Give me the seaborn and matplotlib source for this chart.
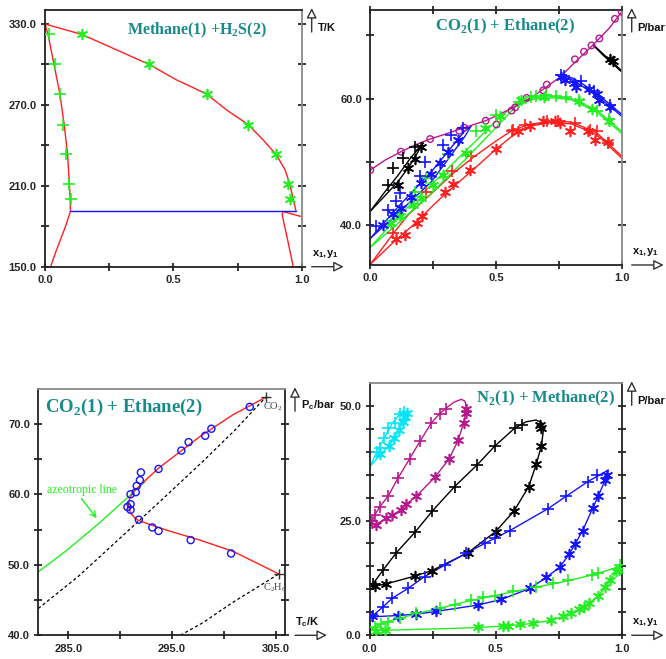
import matplotlib
matplotlib.use('Agg')
import matplotlib.pyplot as plt
import seaborn as sns
from matplotlib.transforms import offset_copy

# ---------------- panel 1 : Methane(1) + H2S(2), T-x-y ----------------
p1_liq_x = [0.0, 0.012, 0.035, 0.058, 0.075, 0.088, 0.095, 0.098, 0.099]
p1_liq_T = [330, 322, 300, 278, 255, 233, 211, 200, 191]
p1_vap_x = [0.0, 0.143, 0.27, 0.406, 0.513, 0.575, 0.63, 0.708, 0.792, 0.85, 0.9, 0.935, 0.954, 0.967, 0.978]
p1_vap_T = [330, 322.3, 311.6, 300, 288.5, 283.0, 277.9, 266.2, 255.3, 244, 233.3, 222, 211.1, 200, 191]
p1_three_x = [0.099, 0.978]
p1_three_T = [191, 191]
p1_sl_left_x = [0.099, 0.08, 0.06, 0.04, 0.022]
p1_sl_left_T = [191, 180, 170, 160, 150]
p1_sl_right_x = [0.926, 0.924, 0.945, 0.967]
p1_sl_right_T = [191, 188.3, 170, 150]
p1_sv_x = [0.926, 1.0]
p1_sv_T = [191, 187.1]
p1_exp_liq_x = [0.016, 0.039, 0.058, 0.071, 0.083, 0.093, 0.101]
p1_exp_liq_T = [322.6, 300, 277.9, 255.3, 233.3, 211.1, 200]
p1_exp_vap_x = [0.143, 0.406, 0.63, 0.792, 0.9, 0.945, 0.956]
p1_exp_vap_T = [322.6, 300, 277.9, 255.3, 233.3, 211.1, 200]

# ---------------- panel 2 : CO2(1) + Ethane(2), P-x-y ----------------
p2_red_bub_x = [0, 0.092, 0.15, 0.244, 0.33, 0.416, 0.5, 0.562, 0.63, 0.715, 0.8, 0.9, 1.0]
p2_red_bub_P = [33.8, 38.7, 41.6, 45.0, 48.2, 50.9, 53.3, 54.9, 55.9, 56.4, 56.3, 54.6, 50.9]
p2_red_dew_x = [0, 0.1, 0.185, 0.244, 0.3, 0.416, 0.5, 0.562, 0.63, 0.715, 0.8, 0.9, 1.0]
p2_red_dew_P = [33.8, 37.6, 40.5, 42.9, 45.0, 49.0, 52.0, 54.0, 55.6, 56.2, 56.0, 54.3, 50.6]
p2_grn_x = [0, 0.111, 0.244, 0.376, 0.509, 0.582, 0.65, 0.728, 0.8, 0.9, 1.0]
p2_grn_bub_P = [36.5, 41.4, 46.4, 51.6, 56.8, 59.3, 60.1, 60.3, 60.0, 58.2, 54.8]
p2_grn_dew_P = [36.5, 40.3, 45.1, 50.3, 55.8, 58.9, 59.9, 60.1, 59.8, 57.9, 54.5]
p2_blu_x = [0, 0.111, 0.244, 0.376, 0.4]
p2_blu_bub_P = [37.9, 42.9, 48.5, 54.9, 55.6]
p2_blu_dew_P = [37.9, 41.9, 46.9, 54.0, 55.6]
p2_blu_r_x = [0.755, 0.8, 0.834, 0.9, 0.95, 1.0]
p2_blu_r_bub_P = [63.6, 63.3, 62.6, 60.8, 59.2, 57.5]
p2_blu_r_dew_P = [63.4, 63.0, 62.2, 60.4, 58.9, 57.2]
p2_blk_x = [0, 0.055, 0.111, 0.16, 0.211]
p2_blk_bub_P = [42.2, 45.1, 47.9, 50.6, 53.0]
p2_blk_dew_P = [42.2, 44.5, 46.9, 49.6, 53.0]
p2_blk_r_x = [0.887, 0.93, 0.97, 1.0]
p2_blk_r_bub_P = [68.5, 66.9, 65.5, 64.4]
p2_blk_r_dew_P = [68.4, 66.7, 65.3, 64.2]
p2_mag_x = [0, 0.06, 0.122, 0.18, 0.238, 0.3, 0.373, 0.459, 0.503, 0.569, 0.65, 0.755, 0.821, 0.887, 0.95, 1.0]
p2_mag_P = [48.7, 50.3, 51.6, 52.7, 53.6, 54.4, 55.4, 56.5, 57.3, 58.6, 60.4, 63.4, 66.0, 68.5, 71.1, 73.7]
p2_mag_exp_x = [0, 0.122, 0.238, 0.354, 0.373, 0.459, 0.502, 0.562, 0.576, 0.622, 0.688, 0.702, 0.814, 0.85, 0.88, 0.911, 0.973, 1.0]
p2_mag_exp_P = [48.7, 51.6, 53.6, 54.9, 55.4, 56.5, 55.9, 58.1, 58.6, 60.1, 61.3, 62.2, 66.2, 67.4, 68.4, 69.5, 72.6, 73.7]
p2_red_plus_x = [0.092, 0.222, 0.324, 0.4, 0.562, 0.569, 0.615, 0.702, 0.748, 0.814, 0.874, 0.9, 0.947]
p2_red_plus_P = [38.8, 45.3, 48.5, 50.9, 54.8, 55.1, 55.8, 56.4, 56.4, 56.2, 55.0, 54.8, 53.0]
p2_red_star_x = [0.101, 0.138, 0.185, 0.207, 0.297, 0.33, 0.397, 0.499, 0.589, 0.635, 0.688, 0.735, 0.755, 0.794, 0.867, 0.894, 0.947]
p2_red_star_P = [37.8, 38.5, 40.4, 41.5, 45.3, 46.5, 48.7, 52.0, 54.8, 55.7, 56.4, 56.4, 56.2, 54.8, 54.8, 53.5, 53.2]
p2_grn_plus_x = [0.11, 0.176, 0.223, 0.309, 0.42, 0.5, 0.59, 0.64, 0.66, 0.7, 0.74, 0.78, 0.83, 0.9, 0.95]
p2_grn_plus_P = [41.8, 45.2, 47.5, 51.2, 54.8, 57.4, 59.5, 60.2, 60.4, 60.5, 60.4, 60.3, 59.8, 58.0, 56.8]
p2_grn_star_x = [0.084, 0.117, 0.17, 0.203, 0.25, 0.289, 0.382, 0.455, 0.515, 0.6, 0.69, 0.83, 0.88, 0.95]
p2_grn_star_P = [40.3, 41.5, 43.2, 44.3, 46.3, 47.9, 51.4, 55.4, 57.2, 59.7, 60.3, 59.6, 58.3, 56.5]
p2_blu_plus_x = [0.024, 0.07, 0.103, 0.117, 0.196, 0.216, 0.289, 0.322, 0.369, 0.757, 0.77, 0.84, 0.89, 0.952]
p2_blu_plus_P = [39.9, 42.4, 43.8, 45.0, 47.8, 49.9, 52.6, 54.2, 55.3, 63.8, 63.5, 62.8, 61.2, 59.0]
p2_blu_star_x = [0.05, 0.09, 0.123, 0.163, 0.203, 0.243, 0.276, 0.309, 0.349, 0.76, 0.775, 0.81, 0.82, 0.87, 0.9, 0.91, 0.955]
p2_blu_star_P = [40.0, 41.8, 42.7, 44.5, 46.6, 48.0, 49.8, 51.6, 53.5, 63.4, 63.0, 62.4, 61.8, 61.5, 60.7, 59.8, 58.7]
p2_blk_plus_x = [0.07, 0.09, 0.13, 0.176]
p2_blk_plus_P = [46.4, 49.0, 50.6, 52.3]
p2_blk_star_x = [0.11, 0.15, 0.176, 0.2, 0.953, 0.966]
p2_blk_star_P = [46.3, 49.0, 50.5, 52.4, 66.2, 65.9]

# ---------------- panel 3 : critical line CO2(1) + Ethane(2) ----------------
p3_crit_T = [304.1, 300.9, 297.7, 293.7, 292.3, 291.3, 290.9, 290.8, 291.0, 291.6, 292.9, 294.5, 297.7, 300.9, 305.3]
p3_crit_P = [73.8, 71.3, 68.2, 63.7, 61.8, 60.4, 59.4, 58.3, 57.3, 56.4, 55.7, 54.9, 53.5, 51.9, 48.7]
p3_exp_T = [302.5, 298.8, 298.2, 296.6, 295.9, 293.7, 292.0, 291.9, 291.6, 291.5, 291.0, 291.0, 290.7, 291.0, 291.8, 293.1, 293.7, 296.8, 300.7]
p3_exp_P = [72.4, 69.3, 68.3, 67.4, 66.2, 63.6, 63.1, 62.0, 61.2, 60.3, 60.0, 58.6, 58.2, 57.8, 56.4, 55.3, 54.8, 53.5, 51.6]
p3_azeo_T = [282.1, 284.8, 288.05, 290.6, 292.4]
p3_azeo_P = [49.0, 52.0, 56.0, 59.4, 61.8]
p3_dot1_T = [282.1, 286, 290, 294, 298, 301, 304.0]
p3_dot1_P = [43.8, 48.4, 53.8, 59.2, 64.7, 69.0, 73.7]
p3_dot2_T = [295.8, 298, 300.9, 303, 305.3]
p3_dot2_P = [40.0, 41.8, 44.7, 46.6, 48.7]
p3_pure_T = [304.1, 305.3]
p3_pure_P = [73.8, 48.7]

# ---------------- panel 4 : N2(1) + Methane(2), P-x-y ----------------
p4_cyan_x = [0, 0.027, 0.057, 0.09, 0.119, 0.147, 0.14, 0.116, 0.098, 0.077, 0.041, 0]
p4_cyan_P = [36.7, 39.8, 42.9, 46.2, 48.1, 48.7, 47.6, 44.7, 42.9, 41.3, 39.2, 36.7]
p4_cyan_plus_x = [0.027, 0.04, 0.057, 0.074, 0.099, 0.119, 0.137]
p4_cyan_plus_P = [39.9, 40.9, 42.9, 45.1, 46.2, 48.3, 48.7]
p4_cyan_star_x = [0.041, 0.077, 0.098, 0.116, 0.133, 0.14, 0.147]
p4_cyan_star_P = [39.6, 41.3, 42.9, 44.7, 46.5, 47.6, 48.4]

p4_mag_x = [0, 0.011, 0.02, 0.04, 0.073, 0.112, 0.159, 0.201, 0.245, 0.278, 0.304, 0.335, 0.364, 0.378, 0.383,
            0.381, 0.373, 0.351, 0.315, 0.258, 0.185, 0.146, 0.126, 0.09, 0.066, 0.026, 0]
p4_mag_P = [23.9, 24.9, 26.2, 28.0, 30.3, 34.2, 38.5, 42.4, 46.3, 48.3, 49.5, 50.8, 51.4, 51.0, 49.8,
            48.5, 46.3, 42.5, 38.4, 34.4, 30.3, 28.6, 27.4, 26.2, 25.5, 24.2, 23.9]
p4_mag_plus_x = [0.011, 0.02, 0.04, 0.073, 0.112, 0.159, 0.201, 0.245, 0.278, 0.304]
p4_mag_plus_P = [24.9, 26.2, 28.0, 30.3, 34.2, 38.5, 42.4, 46.3, 48.3, 49.2]
p4_mag_star_x = [0.026, 0.066, 0.09, 0.126, 0.146, 0.185, 0.258, 0.315, 0.351, 0.373, 0.381, 0.382]
p4_mag_star_P = [24.0, 25.5, 26.2, 27.4, 28.6, 30.3, 34.4, 38.4, 42.5, 46.3, 48.5, 49.3]

p4_blk_x = [0, 0.013, 0.053, 0.106, 0.179, 0.249, 0.337, 0.426, 0.496, 0.575, 0.62, 0.66, 0.685, 0.69,
            0.681, 0.661, 0.631, 0.573, 0.5, 0.39, 0.247, 0.179, 0.066, 0.02, 0]
p4_blk_P = [10.6, 11.2, 14.2, 18.0, 22.4, 27.1, 32.4, 37.1, 41.2, 45.1, 46.5, 46.9, 46.2, 45.0,
            41.2, 37.3, 32.4, 27.1, 22.6, 18.0, 14.1, 12.9, 11.2, 10.7, 10.6]
p4_blk_plus_x = [0.013, 0.053, 0.106, 0.179, 0.249, 0.337, 0.426, 0.496, 0.575, 0.606]
p4_blk_plus_P = [11.2, 14.2, 18.0, 22.4, 27.1, 32.4, 37.1, 41.2, 45.1, 45.9]
p4_blk_star_x = [0.02, 0.066, 0.179, 0.247, 0.39, 0.5, 0.573, 0.631, 0.661, 0.681, 0.681, 0.675]
p4_blk_star_P = [10.7, 11.2, 12.9, 14.1, 18.0, 22.6, 27.1, 32.4, 37.3, 41.2, 45.1, 45.8]

p4_blu_x = [0, 0.013, 0.053, 0.09, 0.152, 0.218, 0.298, 0.384, 0.456, 0.556, 0.708, 0.78, 0.866, 0.947,
            0.934, 0.907, 0.885, 0.845, 0.815, 0.792, 0.755, 0.701, 0.635, 0.522, 0.43, 0.265, 0.185, 0.112, 0.04, 0]
p4_blu_P = [4.0, 4.3, 6.2, 8.1, 10.2, 12.8, 15.3, 17.9, 20.0, 22.8, 27.6, 30.3, 33.5, 36.0,
            33.8, 30.3, 27.7, 22.8, 19.9, 17.7, 14.9, 12.6, 10.2, 7.8, 6.6, 5.2, 4.6, 4.3, 4.1, 4.0]
p4_blu_plus_x = [0.013, 0.053, 0.09, 0.152, 0.218, 0.298, 0.384, 0.456, 0.496, 0.556, 0.708, 0.779, 0.868, 0.9]
p4_blu_plus_P = [4.2, 6.2, 8.1, 10.2, 12.8, 15.3, 17.9, 20.0, 21.1, 22.8, 27.6, 30.4, 33.5, 34.9]
p4_blu_star_x = [0.011, 0.112, 0.185, 0.265, 0.43, 0.522, 0.635, 0.701, 0.755, 0.792, 0.815, 0.845, 0.885, 0.907, 0.934, 0.942]
p4_blu_star_P = [4.1, 4.2, 4.6, 5.2, 6.6, 7.8, 10.2, 12.6, 14.9, 17.7, 19.9, 22.8, 27.7, 30.3, 33.8, 34.9]

p4_grn_bub_x = [0, 0.02, 0.073, 0.119, 0.185, 0.278, 0.337, 0.403, 0.496, 0.569, 0.661, 0.728, 0.788, 0.88, 0.94, 1.0]
p4_grn_bub_P = [1.2, 1.8, 3.0, 3.7, 4.7, 5.9, 6.7, 7.6, 8.6, 9.5, 10.5, 11.2, 11.9, 13.1, 14.1, 15.1]
p4_grn_dew_x = [0, 0.1, 0.2, 0.3, 0.43, 0.529, 0.595, 0.648, 0.721, 0.768, 0.8, 0.832, 0.871, 0.907, 0.934, 0.954, 0.977, 1.0]
p4_grn_dew_P = [1.0, 1.15, 1.3, 1.45, 1.7, 2.0, 2.3, 2.6, 3.3, 4.1, 4.8, 5.6, 7.0, 8.6, 10.4, 12.0, 13.7, 15.1]
p4_grn_plus_x = [0.02, 0.045, 0.073, 0.119, 0.185, 0.278, 0.337, 0.403, 0.45, 0.496, 0.569, 0.661, 0.728, 0.788, 0.881, 0.907, 0.992]
p4_grn_plus_P = [1.9, 2.5, 3.0, 3.7, 4.8, 5.9, 6.7, 7.7, 8.3, 8.6, 9.7, 10.6, 11.3, 12.0, 13.1, 13.6, 15.3]
p4_grn_star_x = [0.026, 0.06, 0.43, 0.529, 0.55, 0.595, 0.648, 0.721, 0.768, 0.8, 0.832, 0.85, 0.871, 0.907, 0.934, 0.954, 0.977, 0.99]
p4_grn_star_P = [1.0, 1.2, 1.7, 2.1, 2.1, 2.4, 2.6, 3.3, 4.2, 4.9, 5.7, 6.2, 7.0, 8.6, 10.5, 12.0, 13.9, 14.3]

RED = '#ff1f1f'
GRN = '#22ee22'
BLU = '#1414ff'
MAG = '#b8188e'
CYN = '#00e6f6'
TEAL = '#178a8a'
STAR = (6, 2, 0)

sns.set_style('ticks')
plt.rcParams['font.family'] = ['Liberation Sans', 'DejaVu Sans']
plt.rcParams['axes.linewidth'] = 1.3
plt.rcParams['axes.edgecolor'] = '#222222'

fig = plt.figure(figsize=(6.66, 6.59), dpi=100)
ax1 = fig.add_axes([0.0676, 0.5953, 0.3854, 0.3895])
ax2 = fig.add_axes([0.5560, 0.5979, 0.3775, 0.3870])
ax3 = fig.add_axes([0.0575, 0.0360, 0.3704, 0.3733])
ax4 = fig.add_axes([0.5551, 0.0360, 0.3784, 0.3824])


def line(ax, x, y, color, lw=1.0, ls='-'):
    sns.lineplot(x=x, y=y, ax=ax, color=color, lw=lw, ls=ls, sort=False, estimator=None)


def marks(ax, x, y, color, marker, s=40, lw=1.0):
    if marker == 'o':
        sns.scatterplot(x=x, y=y, ax=ax, marker='o', s=s, facecolors='none',
                        edgecolor=color, linewidth=lw, zorder=3)
    else:
        sns.scatterplot(x=x, y=y, ax=ax, marker=marker, s=s, color=color,
                        linewidth=lw, zorder=3)


def frame(ax, xlim, ylim, xticks, xlabels, yticks, ylabels, top=False):
    ax.set_xlim(*xlim)
    ax.set_ylim(*ylim)
    ax.set_xticks(xticks)
    ax.set_xticklabels(xlabels)
    ax.set_yticks(yticks)
    ax.set_yticklabels(ylabels)
    ax.set_xlabel('')
    ax.set_ylabel('')
    ax.tick_params(direction='inout', length=6, width=1.3, right=True, top=top,
                   labelsize=8, pad=3)
    for lab in ax.get_xticklabels() + ax.get_yticklabels():
        lab.set_fontweight('bold')


def axis_arrows(ax, ylab, xlab, ytext=-18):
    kw = dict(arrowstyle='-|>,head_width=0.3,head_length=0.6', fc='white',
              ec='#333333', lw=1.0, shrinkA=0, shrinkB=0)
    ax.annotate('', xy=(1, 1), xycoords=offset_copy(ax.transAxes, fig=fig, x=10, y=2, units='dots'),
                xytext=(1, 1), textcoords=offset_copy(ax.transAxes, fig=fig, x=10, y=-22, units='dots'),
                arrowprops=kw, annotation_clip=False)
    ax.annotate('', xy=(1, 0), xycoords=offset_copy(ax.transAxes, fig=fig, x=42, y=0, units='dots'),
                xytext=(1, 0), textcoords=offset_copy(ax.transAxes, fig=fig, x=10, y=0, units='dots'),
                arrowprops=kw, annotation_clip=False)
    ax.text(1, 1, ylab, transform=offset_copy(ax.transAxes, fig=fig, x=16, y=ytext, units='dots'),
            ha='left', va='center', fontsize=8, fontweight='bold', color='#111111')
    ax.text(1, 0, xlab, transform=offset_copy(ax.transAxes, fig=fig, x=10, y=13, units='dots'),
            ha='left', va='center', fontsize=8, fontweight='bold', color='#111111')


XY = r'x$_\mathregular{1}$,y$_\mathregular{1}$'
serif = ['Liberation Serif', 'DejaVu Serif']
PS, SS, MW = 65, 50, 1.2

# panel 1
line(ax1, p1_liq_x, p1_liq_T, RED)
line(ax1, p1_vap_x, p1_vap_T, RED)
line(ax1, p1_sl_left_x, p1_sl_left_T, RED)
line(ax1, p1_sl_right_x, p1_sl_right_T, RED)
line(ax1, p1_sv_x, p1_sv_T, RED)
line(ax1, p1_three_x, p1_three_T, BLU)
marks(ax1, p1_exp_liq_x, p1_exp_liq_T, GRN, '+', s=PS, lw=MW)
marks(ax1, p1_exp_vap_x, p1_exp_vap_T, GRN, STAR, s=SS, lw=MW)
frame(ax1, (0, 1), (150, 340.4), [0, 0.25, 0.5, 0.75, 1.0], ['0.0', '', '0.5', '', '1.0'],
      [150, 180, 210, 240, 270, 300, 330], ['150.0', '', '210.0', '', '270.0', '', '330.0'])
ax1.spines['right'].set_color('#888888')
ax1.text(0.59, 0.919, r'Methane(1) +H$_\mathregular{2}$S(2)', transform=ax1.transAxes,
         ha='center', va='center', fontsize=11.5, fontweight='bold', color=TEAL, family=serif)
axis_arrows(ax1, 'T/K', XY)

# panel 2
for xs, ys, c in [(p2_red_bub_x, p2_red_bub_P, RED), (p2_red_dew_x, p2_red_dew_P, RED),
                  (p2_grn_x, p2_grn_bub_P, GRN), (p2_grn_x, p2_grn_dew_P, GRN),
                  (p2_blu_x, p2_blu_bub_P, BLU), (p2_blu_x, p2_blu_dew_P, BLU),
                  (p2_blu_r_x, p2_blu_r_bub_P, BLU), (p2_blu_r_x, p2_blu_r_dew_P, BLU),
                  (p2_blk_x, p2_blk_bub_P, 'black'), (p2_blk_x, p2_blk_dew_P, 'black'),
                  (p2_blk_r_x, p2_blk_r_bub_P, 'black'), (p2_blk_r_x, p2_blk_r_dew_P, 'black'),
                  (p2_mag_x, p2_mag_P, MAG)]:
    line(ax2, xs, ys, c)
marks(ax2, p2_mag_exp_x, p2_mag_exp_P, MAG, 'o', s=22)
for xs, ys, c in [(p2_red_plus_x, p2_red_plus_P, RED), (p2_grn_plus_x, p2_grn_plus_P, GRN),
                  (p2_blu_plus_x, p2_blu_plus_P, BLU), (p2_blk_plus_x, p2_blk_plus_P, 'black')]:
    marks(ax2, xs, ys, c, '+', s=PS, lw=MW)
for xs, ys, c in [(p2_red_star_x, p2_red_star_P, RED), (p2_grn_star_x, p2_grn_star_P, GRN),
                  (p2_blu_star_x, p2_blu_star_P, BLU), (p2_blk_star_x, p2_blk_star_P, 'black')]:
    marks(ax2, xs, ys, c, STAR, s=SS, lw=MW)
frame(ax2, (0, 1), (33.7, 74.0), [0, 0.25, 0.5, 0.75, 1.0], ['0.0', '', '0.5', '', '1.0'],
      [40, 50, 60, 70], ['40.0', '', '60.0', ''], top=True)
ax2.spines['right'].set_color('#888888')
ax2.text(0.535, 0.937, r'CO$_\mathregular{2}$(1) + Ethane(2)', transform=ax2.transAxes,
         ha='center', va='center', fontsize=12, fontweight='bold', color=TEAL, family=serif)
axis_arrows(ax2, 'P/bar', XY)

# panel 3
line(ax3, p3_dot1_T, p3_dot1_P, 'black', lw=0.9, ls=(0, (2.5, 2)))
line(ax3, p3_dot2_T, p3_dot2_P, 'black', lw=0.9, ls=(0, (2.5, 2)))
line(ax3, p3_azeo_T, p3_azeo_P, GRN)
line(ax3, p3_crit_T, p3_crit_P, RED)
marks(ax3, p3_exp_T, p3_exp_P, BLU, 'o', s=26)
marks(ax3, p3_pure_T, p3_pure_P, '#333333', '+', s=45)
frame(ax3, (282.1, 305.9), (40, 74.9), [285, 290, 295, 300, 305], ['285.0', '', '295.0', '', '305.0'],
      [40, 45, 50, 55, 60, 65, 70], ['40.0', '', '50.0', '', '60.0', '', '70.0'])
ax3.spines['top'].set_color('#888888')
ax3.text(0.027, 0.927, r'CO$_\mathregular{2}$(1) + Ethane(2)', transform=ax3.transAxes,
         ha='left', va='center', fontsize=13.5, fontweight='bold', color=TEAL, family=serif)
ax3.text(303.8, 72.5, r'CO$_\mathregular{2}$', ha='left', va='center', fontsize=7.5,
         color='#444444', family=serif)
ax3.text(303.8, 46.7, r'C$_\mathregular{2}$H$_\mathregular{6}$', ha='left', va='center', fontsize=7.5,
         color='#444444', family=serif)
ax3.text(282.9, 60.6, 'azeotropic line', ha='left', va='center', fontsize=8.5, color=GRN, family=serif)
ax3.annotate('', xy=(287.9, 56.3), xytext=(286.1, 59.7),
             arrowprops=dict(arrowstyle='->', color=GRN, lw=1.0))
axis_arrows(ax3, r'P$_\mathregular{c}$/bar', r'T$_\mathregular{c}$/K', ytext=-16)

# panel 4
line(ax4, p4_cyan_x, p4_cyan_P, CYN)
line(ax4, p4_mag_x, p4_mag_P, MAG)
line(ax4, p4_blk_x, p4_blk_P, 'black')
line(ax4, p4_blu_x, p4_blu_P, BLU)
line(ax4, p4_grn_bub_x, p4_grn_bub_P, GRN)
line(ax4, p4_grn_dew_x, p4_grn_dew_P, GRN)
for xs, ys, c, m in [(p4_cyan_plus_x, p4_cyan_plus_P, CYN, '+'), (p4_cyan_star_x, p4_cyan_star_P, CYN, STAR),
                     (p4_mag_plus_x, p4_mag_plus_P, MAG, '+'), (p4_mag_star_x, p4_mag_star_P, MAG, STAR),
                     (p4_blk_plus_x, p4_blk_plus_P, 'black', '+'), (p4_blk_star_x, p4_blk_star_P, 'black', STAR),
                     (p4_blu_plus_x, p4_blu_plus_P, BLU, '+'), (p4_blu_star_x, p4_blu_star_P, BLU, STAR),
                     (p4_grn_plus_x, p4_grn_plus_P, GRN, '+'), (p4_grn_star_x, p4_grn_star_P, GRN, STAR)]:
    marks(ax4, xs, ys, c, m, s=PS if m == '+' else SS, lw=MW)
frame(ax4, (0, 1), (0, 54.9), [0, 0.25, 0.5, 0.75, 1.0], ['0.0', '', '0.5', '', '1.0'],
      list(range(0, 55, 5)), ['0.0', '', '', '', '', '25.0', '', '', '', '', '50.0'])
ax4.spines['top'].set_color('#888888')
ax4.text(0.976, 0.94, r'N$_\mathregular{2}$(1) + Methane(2)', transform=ax4.transAxes,
         ha='right', va='center', fontsize=12, fontweight='bold', color=TEAL, family=serif)
axis_arrows(ax4, 'P/bar', XY)

fig.savefig('out.png', dpi=100)
